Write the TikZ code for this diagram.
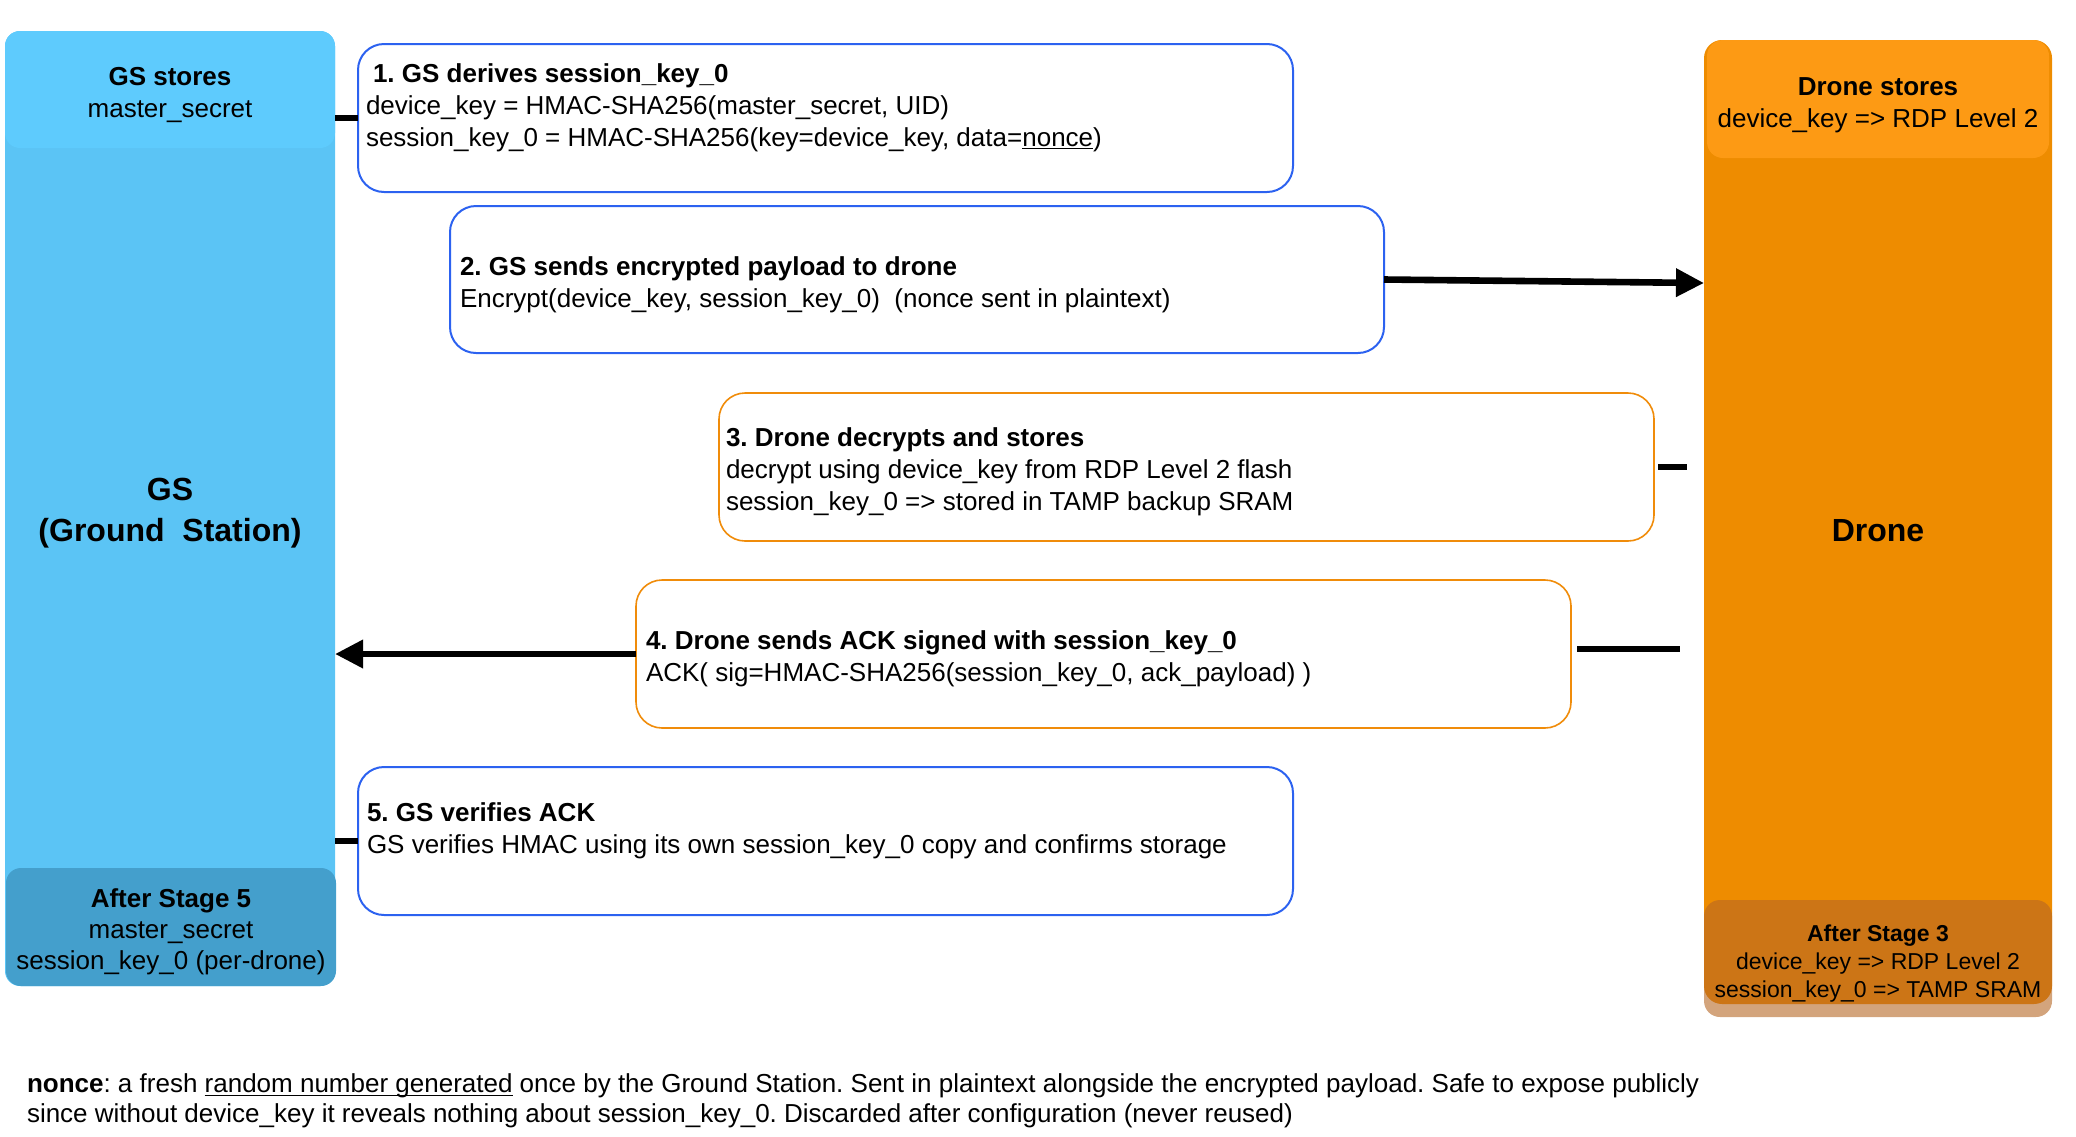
\documentclass[tikz,border=0pt]{standalone}
\usepackage{fontspec}
\setmainfont{Liberation Sans}
\usetikzlibrary{arrows.meta}
\definecolor{gsmain}{RGB}{91,196,245}
\definecolor{gsstore}{RGB}{94,203,253}
\definecolor{gsafter}{RGB}{68,159,204}
\definecolor{drmain}{RGB}{238,140,0}
\definecolor{drstore}{RGB}{253,154,20}
\definecolor{draftr}{RGB}{182,103,37}
\definecolor{stepblue}{RGB}{44,98,240}
\definecolor{steporange}{RGB}{240,140,10}
\newlength\ulwd
\newcommand\myul[1]{\settowidth{\ulwd}{#1}\rlap{\rule[-1.6pt]{\ulwd}{0.5pt}}#1}
\frenchspacing
\begin{document}
\begin{tikzpicture}[x=0.5pt,y=-0.5pt,
  every node/.style={inner sep=0pt,outer sep=0pt},
  panel/.style={rectangle,draw=none},
  stepbox/.style={rectangle,rounded corners=13pt,fill=white,line width=1pt,
    minimum width=467.5pt,minimum height=74pt},
  bluebox/.style={stepbox,draw=stepblue},
  orangebox/.style={stepbox,draw=steporange,line width=0.8pt},
  body/.style={font=\fontsize{13}{16}\selectfont,align=left,anchor=west},
  ctext/.style={font=\fontsize{13}{16}\selectfont,align=center,anchor=center},
  conn/.style={line width=3.3pt,black},
  tip/.style={-{Triangle[length=14pt,width=13.5pt]}}
]
\useasboundingbox (0,0) rectangle (2076,1136);

% --- GS column
\node[panel,fill=gsmain,rounded corners=7.5pt,minimum width=165pt,minimum height=477.5pt] (gs) at (170,508.5) {};
\node[panel,fill=gsstore,rounded corners=7.5pt,minimum width=165pt,minimum height=58.5pt] (gsst) at (170,89.5) {};
\node[panel,fill=gsafter,rounded corners=7.5pt,minimum width=165pt,minimum height=59pt] (gsaft) at (171,927) {};
\node[ctext] (gssttxt) at (170,95) {\textbf{GS stores}\\master\_secret};
\node[font=\fontsize{16}{20.5}\selectfont\bfseries,align=center] (gslbl) at (170,513.5) {GS\\(Ground\ \ Station)};
\node[font=\fontsize{13}{15.5}\selectfont,align=center] (gsafttxt) at (171,932) {\textbf{After Stage 5}\\master\_secret\\session\_key\_0 (per-drone)};

% --- Drone column
\node[panel,fill=drmain,rounded corners=9pt,minimum width=174pt,minimum height=482pt] (drone) at (1878,522) {};
\node[panel,fill=drstore,rounded corners=8pt,minimum width=171pt,minimum height=59pt] (drst) at (1878,99) {};
\node[panel,fill=draftr,fill opacity=0.6,rounded corners=8pt,minimum width=174pt,minimum height=58.5pt] (draft) at (1878,958.5) {};
\node[ctext] (drsttxt) at (1878,105) {\textbf{Drone stores}\\device\_key => RDP Level 2};
\node[font=\fontsize{16}{20}\selectfont\bfseries] (drlbl) at (1878,530.5) {Drone};
\node[font=\fontsize{11.5}{14}\selectfont,align=center] (drafttxt) at (1878,964) {\textbf{After Stage 3}\\device\_key => RDP Level 2\\session\_key\_0 => TAMP SRAM};

% --- step boxes
\node[bluebox] (box1) at (825.5,118) {};
\node[bluebox,minimum height=73.5pt,minimum width=467pt] (box2) at (917,279.5) {};
\node[orangebox] (box3) at (1186.5,467) {};
\node[orangebox] (box4) at (1103.5,654) {};
\node[bluebox] (box5) at (825.5,841) {};

\node[body] (t1) at (366,107.5) {\hspace*{3.5pt}\textbf{1. GS derives session\_key\_0}\\device\_key = HMAC-SHA256(master\_secret, UID)\\session\_key\_0 = HMAC-SHA256(key=device\_key, data=\myul{nonce})};
\node[body] (t2) at (460,285) {\textbf{2. GS sends encrypted payload to drone}\\Encrypt(device\_key, session\_key\_0)\ \ (nonce sent in plaintext)};
\node[body] (t3) at (726,472) {\textbf{3. Drone decrypts and stores}\\decrypt using device\_key from RDP Level 2 flash\\session\_key\_0 => stored in TAMP backup SRAM};
\node[body] (t4) at (646,659) {\textbf{4. Drone sends ACK signed with session\_key\_0}\\ACK( sig=HMAC-SHA256(session\_key\_0, ack\_payload) )};
\node[body] (t5) at (367,830.5) {\textbf{5. GS verifies ACK}\\GS verifies HMAC using its own session\_key\_0 copy and confirms storage};

% --- footer
\node[font=\fontsize{13}{15}\selectfont,align=left,anchor=west] (note) at (27,1101) {\textbf{nonce}: a fresh \myul{random number generated} once by the Ground Station. Sent in plaintext alongside the encrypted payload. Safe to expose publicly\\since without device\_key it reveals nothing about session\_key\_0. Discarded after configuration (never reused)};

% --- connectors
\coordinate (a2e) at (1704,283);
\coordinate (s3) at (1687,467);
\coordinate (s4) at (1680,649);
\draw[conn] (gs.east |- box1.west) -- (box1.west);
\draw[conn,tip] (box2.east) -- (a2e);
\draw[conn] ([xshift=2pt]box3.east) -- (s3);
\draw[conn] ([shift={(3pt,2.5pt)}]box4.east) -- (s4);
\draw[conn,tip] (box4.west) -- (gs.east |- box4.west);
\draw[conn] (gs.east |- box5.west) -- (box5.west);
\end{tikzpicture}
\end{document}
